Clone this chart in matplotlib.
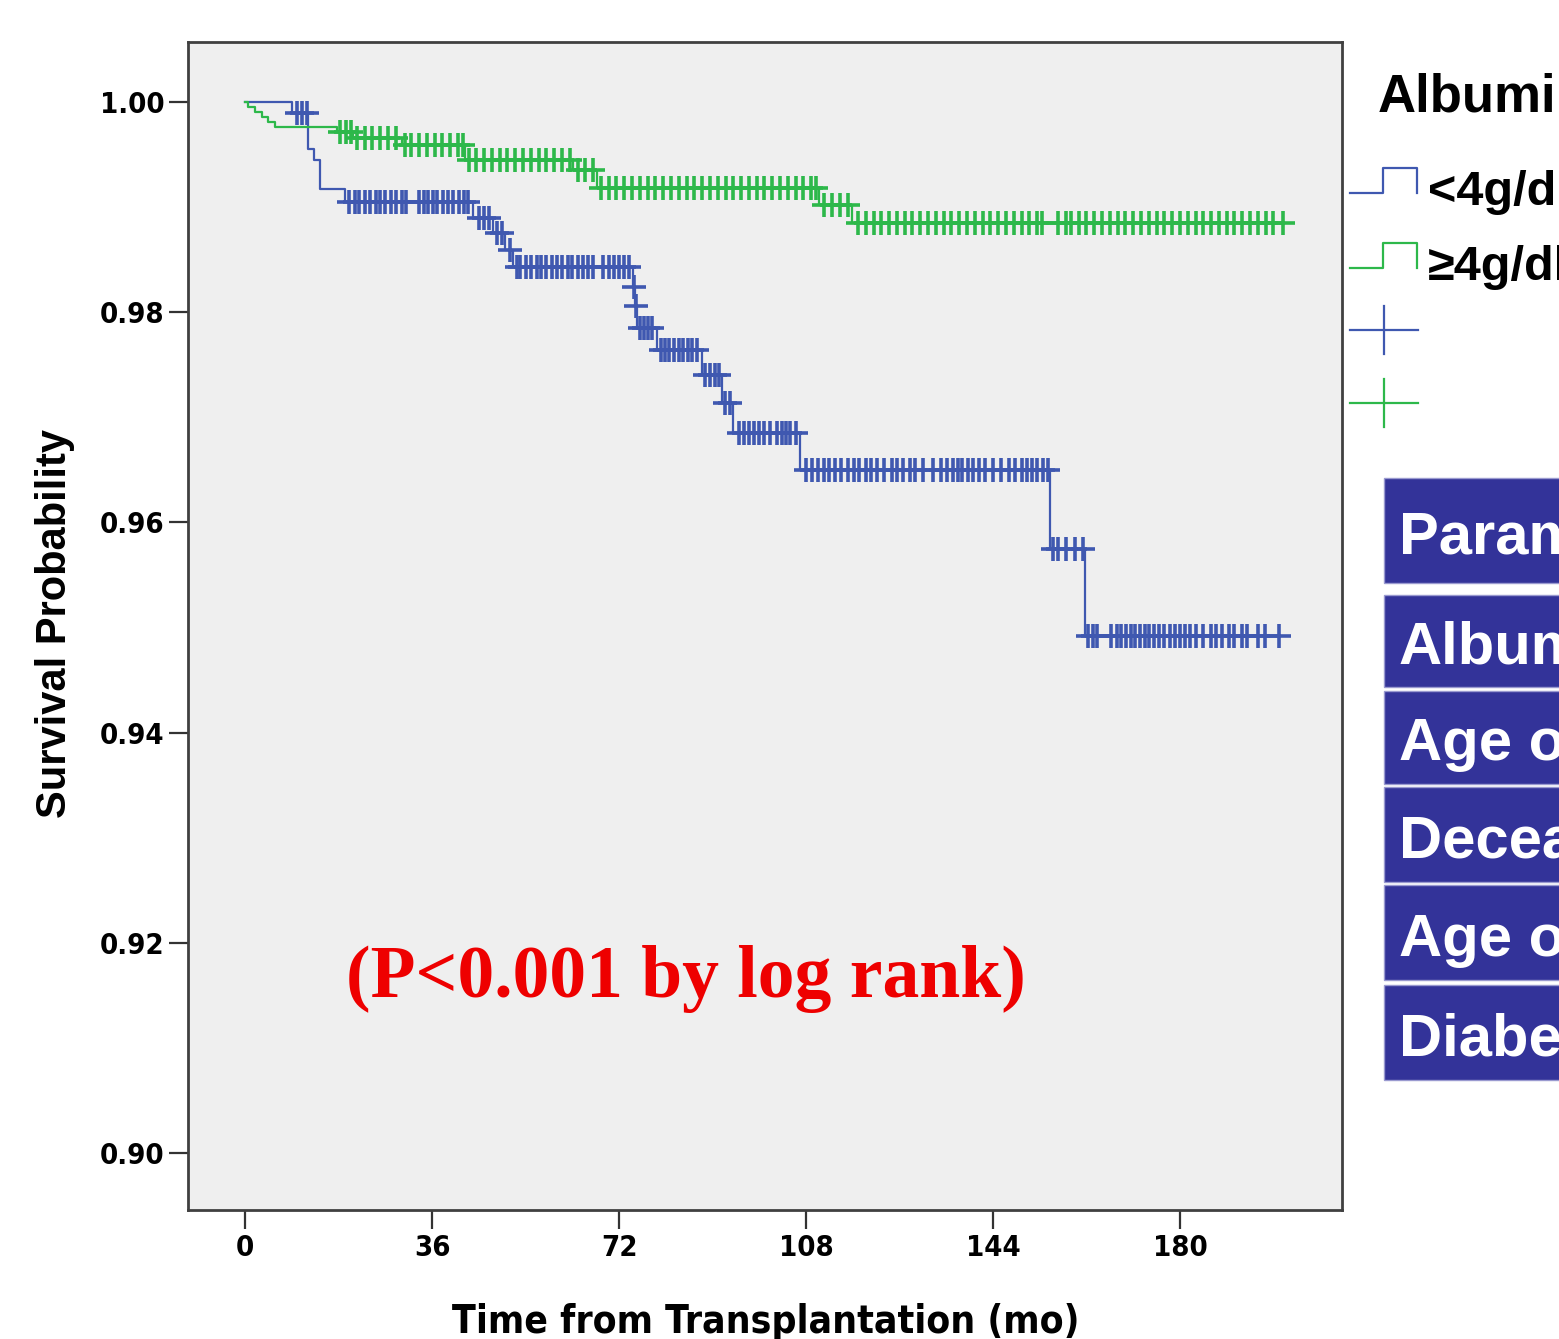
import numpy as np
import matplotlib
matplotlib.use("Agg")
import matplotlib.pyplot as plt
from matplotlib.patches import Rectangle

# Kaplan-Meier steps (time in months, survival after the drop)
blue_event_t = [9.1, 12.1, 13.3, 14.4, 19.3, 43.9, 47.7, 50.1, 51.6, 74.7, 75.1, 75.5,
                79.3, 88.0, 91.8, 94.0, 106.9, 155.0, 161.7]
blue_surv = [0.99895, 0.99553, 0.99448, 0.99172, 0.99049, 0.98896, 0.98754, 0.98592,
             0.98430, 0.98240, 0.98059, 0.97850, 0.97640, 0.97402, 0.97136, 0.96851,
             0.96499, 0.95747, 0.94919]
blue_censor_t = [10.0, 11.0, 11.9,
                 20.0, 21.2, 22.0, 23.1, 24.0, 25.2, 26.0, 27.0, 28.1, 29.0, 30.2, 31.0,
                 33.5, 34.5, 35.3, 36.2, 37.0, 38.1, 39.0, 40.0, 41.2, 42.1, 43.0,
                 45.0, 46.0, 47.0, 48.5, 49.5, 51.0,
                 52.3, 53.0, 54.1, 55.0, 56.2, 57.0, 58.0, 59.1, 60.0, 61.0, 62.2, 63.0,
                 64.0, 65.1, 66.0, 67.0, 69.0, 70.0, 71.1, 72.0, 73.0, 74.0,
                 74.9, 75.3,
                 76.0, 76.8, 77.6, 78.4,
                 80.0, 80.8, 81.6, 82.5, 83.5, 84.4, 85.2, 86.0, 87.0,
                 88.6, 89.5, 90.4, 91.2, 92.4, 93.3,
                 95.0, 96.0, 97.0, 98.0, 99.0, 100.0, 101.0, 102.5, 103.3, 104.2, 105.0, 106.0,
                 108.0, 109.2, 110.3, 111.4, 112.5, 113.6, 114.8, 116.0, 117.2, 118.2, 119.5,
                 120.5, 121.6, 123.0, 124.5, 125.5, 126.7, 128.0, 129.0, 130.5, 132.5, 134.0,
                 135.2, 136.3, 137.2, 138.1, 139.2, 140.2, 141.3, 142.5, 144.0, 145.5, 147.0,
                 148.2, 149.5, 150.5, 151.5, 152.5, 153.6, 154.6,
                 155.5, 156.6, 158.1, 159.8, 161.3,
                 162.3, 163.2, 164.0, 166.8, 167.8, 168.7, 169.6, 170.5, 171.4, 172.3, 173.2,
                 174.1, 175.0, 176.0, 177.0, 178.0, 179.0, 180.0, 181.0, 182.0, 183.0, 184.5,
                 186.0, 187.0, 188.0, 189.5, 190.5, 192.0, 193.0, 195.0, 196.3, 199.0]

green_event_t = [0.6, 1.9, 3.2, 4.5, 5.8, 17.7, 20.8, 30.2, 42.4, 63.1, 67.8, 110.5, 116.9]
green_surv = [0.99952, 0.99905, 0.99857, 0.99810, 0.99762, 0.99715, 0.99658, 0.99591,
              0.99448, 0.99353, 0.99182, 0.99020, 0.98849]
green_censor_t = [18.2, 19.5, 20.3, 21.5, 23.0, 24.5, 26.0, 27.5, 29.0, 30.8, 32.0, 33.5,
                  35.0, 36.5, 38.0, 39.5, 41.0, 42.0, 43.2, 44.5, 46.0, 47.5, 49.0, 50.5,
                  52.0, 53.5, 55.0, 56.5, 58.0, 59.5, 61.0, 62.5, 64.0, 65.5, 67.0, 68.5,
                  70.0, 71.5, 73.0, 74.5, 76.0, 77.5, 79.0, 80.5, 82.0, 83.5, 85.0, 86.5,
                  88.0, 89.5, 91.0, 92.5, 94.0, 95.5, 97.0, 98.5, 100.0, 101.5, 103.0, 104.5,
                  106.0, 107.5, 109.0, 110.0, 111.5, 113.0, 114.5, 116.0, 118.0, 119.5, 121.0,
                  122.5, 124.0, 125.5, 127.0, 128.5, 130.0, 131.5, 133.0, 134.5, 136.0, 137.5,
                  139.0, 140.5, 142.0, 143.5, 145.0, 146.5, 148.0, 149.5, 151.0, 152.5, 153.5,
                  156.5, 158.0, 159.0, 160.5, 162.0, 163.5, 165.0, 166.5, 168.0, 169.5, 171.0,
                  172.5, 174.0, 175.5, 177.0, 178.5, 180.0, 181.5, 183.0, 184.5, 186.0, 187.5,
                  189.0, 190.5, 192.0, 193.5, 195.0, 196.5, 198.0, 199.8]

x_ticks = [0, 36, 72, 108, 144, 180]
y_ticks = [0.90, 0.92, 0.94, 0.96, 0.98, 1.00]
group_labels = ["<4g/dl", "\u22654g/dl"]
table_rows = ["Parameters", "Albumin", "Age of recipient", "Deceased donor",
              "Age of donor", "Diabetes"]

BLUE = "#3f58b0"
GREEN = "#2db84a"
SANS = ["Liberation Sans", "DejaVu Sans"]


def km_curve(event_t, surv, end_t):
    # step coordinates starting from 1.0 at time 0
    t = np.concatenate([[0.0], event_t, [end_t]])
    s = np.concatenate([[1.0], surv, [surv[-1]]])
    return t, s


def surv_at(event_t, surv, times):
    idx = np.searchsorted(event_t, times, side="right")
    s = np.concatenate([[1.0], surv])
    return s[idx]


W, H = 1559, 1339
fig = plt.figure(figsize=(W / 100, H / 100), dpi=100)
ax = fig.add_axes([188 / W, 1 - 1210 / H, (1342 - 188) / W, (1210 - 42) / H])
ax.set_facecolor("#efefef")

groups = [(blue_event_t, blue_surv, blue_censor_t, BLUE),
          (green_event_t, green_surv, green_censor_t, GREEN)]
for ev, sv, cens, col in groups:
    t, s = km_curve(np.array(ev), np.array(sv), max(cens))
    ax.step(t, s, where="post", color=col, lw=1.6, zorder=3)
    cy = surv_at(np.array(ev), np.array(sv), np.array(cens))
    ax.plot(cens, cy, ls="none", marker="+", ms=17, mew=2.6, color=col, zorder=4)

ax.set_xlim(-11, 211.2)
ax.set_ylim(0.89458, 1.00571)
ax.set_xticks(x_ticks)
ax.set_yticks(y_ticks)
tick_font = dict(family="DejaVu Sans", stretch="condensed", weight="bold", fontsize=21)
ax.set_xticklabels([str(v) for v in x_ticks], **tick_font)
ax.set_yticklabels(["%.2f" % v for v in y_ticks], **tick_font)
ax.tick_params(direction="out", length=14, width=1.6, color="#333333", pad=3)
for sp in ax.spines.values():
    sp.set_color("#404040")
    sp.set_linewidth(2)

fig.text(55 / W, 1 - 624 / H, "Survival Probability", rotation=90, ha="center", va="center",
         family=SANS, weight="bold", fontsize=30)
fig.text(766 / W, 1 - 1322 / H, "Time from Transplantation (mo)", ha="center", va="center",
         family="DejaVu Sans", stretch="condensed", weight="bold", fontsize=28)

ax.text(0.4315, 0.1824, "(P<0.001 by log rank)", transform=ax.transAxes, ha="center",
        va="baseline", color="#ee0000", weight="bold", fontsize=53,
        family=["Liberation Serif", "DejaVu Serif"])

# legend and table drawn on an overlay in pixel units
ov = fig.add_axes([0, 0, 1, 1], facecolor="none")
ov.set_xlim(0, W)
ov.set_ylim(H, 0)
ov.axis("off")

ov.text(1378, 112, "Albumin", ha="left", va="baseline", family=SANS, weight="bold",
        fontsize=38)
for i, (lab, col) in enumerate(zip(group_labels, [BLUE, GREEN])):
    dy = i * 75
    ov.plot([1350, 1383, 1383, 1417, 1417], [193 + dy, 193 + dy, 168 + dy, 168 + dy, 193 + dy],
            color=col, lw=1.6)
    ov.text(1428, 205 + dy, lab, ha="left", va="baseline", family=SANS, weight="bold",
            fontsize=35)
    cy = 330 + dy * 73 / 75
    ov.plot([1350, 1418], [cy, cy], color=col, lw=1.6)
    ov.plot([1384, 1384], [cy - 24, cy + 24], color=col, lw=1.6)

row_top = [478, 595, 691, 787, 885, 985]
row_bot = [583, 687, 784, 882, 980, 1080]
for lab, y0, y1 in zip(table_rows, row_top, row_bot):
    ov.add_patch(Rectangle((1384, y0), 400, y1 - y0, facecolor="#333399",
                           edgecolor="#9a9ad0", lw=1))
    ov.text(1399, (y0 + y1) / 2 + 23, lab, ha="left", va="baseline", color="white",
            family=SANS, weight="bold", fontsize=43)

fig.savefig("out.png", dpi=100)
